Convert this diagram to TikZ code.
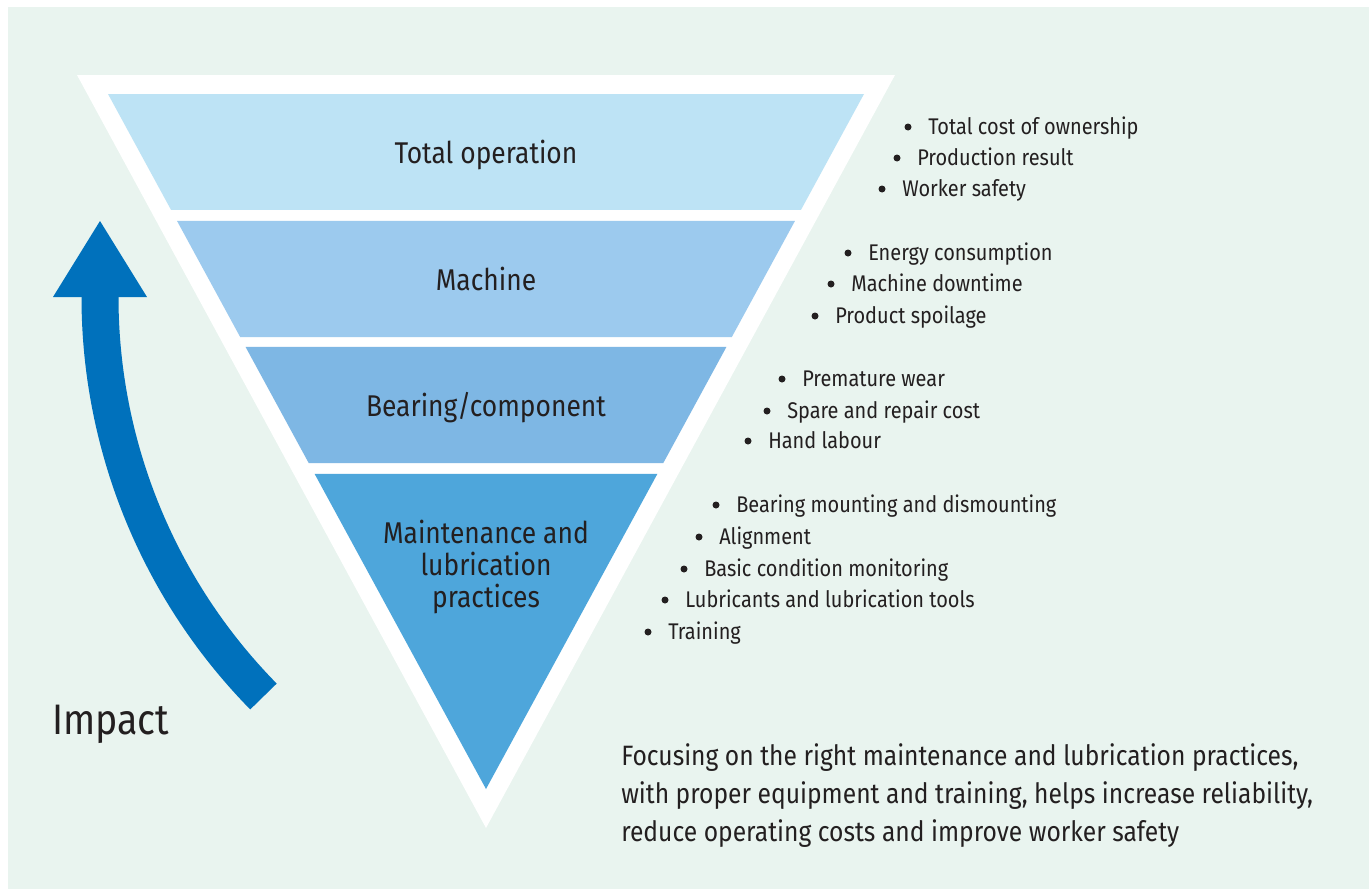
\documentclass[tikz,border=0pt]{standalone}
\usepackage{fontspec}
\setmainfont{Fira Sans}[FakeStretch=0.88]
\usepackage{tikz}
\usetikzlibrary{calc}
\definecolor{bgcol}{HTML}{E9F4EF}
\definecolor{bandA}{HTML}{BDE3F5}
\definecolor{bandB}{HTML}{9CCAEE}
\definecolor{bandC}{HTML}{7EB7E4}
\definecolor{bandD}{HTML}{4EA6DB}
\definecolor{arrowcol}{HTML}{0071BC}
\definecolor{txtcol}{HTML}{231F20}
\tikzset{
  bandlabel/.style={font=\fontsize{22.5}{24}\selectfont, text=txtcol, align=center, inner sep=0pt},
  item/.style={anchor=base west, inner sep=0pt, font=\fontsize{17}{20}\selectfont, text=txtcol},
}

\begin{document}
\begin{tikzpicture}[x=0.75pt, y=-0.75pt]
\useasboundingbox (0,0) rectangle (1372,889);
\fill[bgcol] (8,7) rectangle (1369,889);

% ================= Funnel =================
\fill[white] (77,75) -- (895,75) -- (486,828) -- cycle;

\coordinate (tl) at (108,94);
\coordinate (tr) at (864,94);
\coordinate (ap) at (486,789);

\foreach \yt/\yb/\col in {94/210/bandA, 221/337/bandB, 347/463/bandC}{
  \fill[\col] ($(tl)!{(\yt-94)/695}!(ap)$) -- ($(tr)!{(\yt-94)/695}!(ap)$)
    -- ($(tr)!{(\yb-94)/695}!(ap)$) -- ($(tl)!{(\yb-94)/695}!(ap)$) -- cycle;
}
\fill[bandD] ($(tl)!{380/695}!(ap)$) -- ($(tr)!{380/695}!(ap)$) -- (ap) -- cycle;

\node[bandlabel, anchor=base] (total) at (486,163) {Total operation};
\node[bandlabel, anchor=base] (machine) at (486,290) {Machine};
\node[bandlabel, anchor=base] (bearing) at (486,416) {Bearing/component};
\node[bandlabel] (practices) at (486,567) {Maintenance and\\lubrication\\practices};

% ================= Bullet lists =================
\foreach \bx/\by/\txt [count=\i] in {
  908/127/Total cost of ownership, 897/158/Production result,
  882/189/Worker safety}{
  \fill[txtcol] (\bx,\by) circle (3.5);
  \node[item] (tot\i) at (\bx+20,\by+7) {\txt};
}

\foreach \bx/\by/\txt [count=\i] in {
  848/253/Energy consumption, 831/284/Machine downtime,
  815/316/Product spoilage}{
  \fill[txtcol] (\bx,\by) circle (3.5);
  \node[item] (mach\i) at (\bx+20,\by+7) {\txt};
}

\foreach \bx/\by/\txt [count=\i] in {
  782/379/Premature wear, 767/411/Spare and repair cost,
  748/441/Hand labour}{
  \fill[txtcol] (\bx,\by) circle (3.5);
  \node[item] (bear\i) at (\bx+20,\by+7) {\txt};
}

\foreach \bx/\by/\txt [count=\i] in {
  716/505/Bearing mounting and dismounting, 699/537/Alignment,
  684/569/Basic condition monitoring, 665/600/Lubricants and lubrication tools,
  648/632/Training}{
  \fill[txtcol] (\bx,\by) circle (3.5);
  \node[item] (prac\i) at (\bx+20,\by+7) {\txt};
}

% ================= Impact arrow =================
\draw[arrowcol, line width=27.75pt] (100,290) -- (100,297)
  arc[start angle=180, end angle=135.5, radius=570];
\fill[arrowcol] (53,297) -- (147,297) -- (100,221) -- cycle;
\node[anchor=base west, inner sep=0pt, font=\fontsize{32}{34}\selectfont, text=txtcol]
  (impact) at (52,734) {Impact};

% ================= Note =================
\node[anchor=north west, inner sep=0pt, align=left, text=txtcol,
  font=\fontsize{21}{28.5}\selectfont] (note) at (621,743)
  {Focusing on the right maintenance and lubrication practices,\\
   with proper equipment and training, helps increase reliability,\\
   reduce operating costs and improve worker safety};
\end{tikzpicture}
\end{document}
